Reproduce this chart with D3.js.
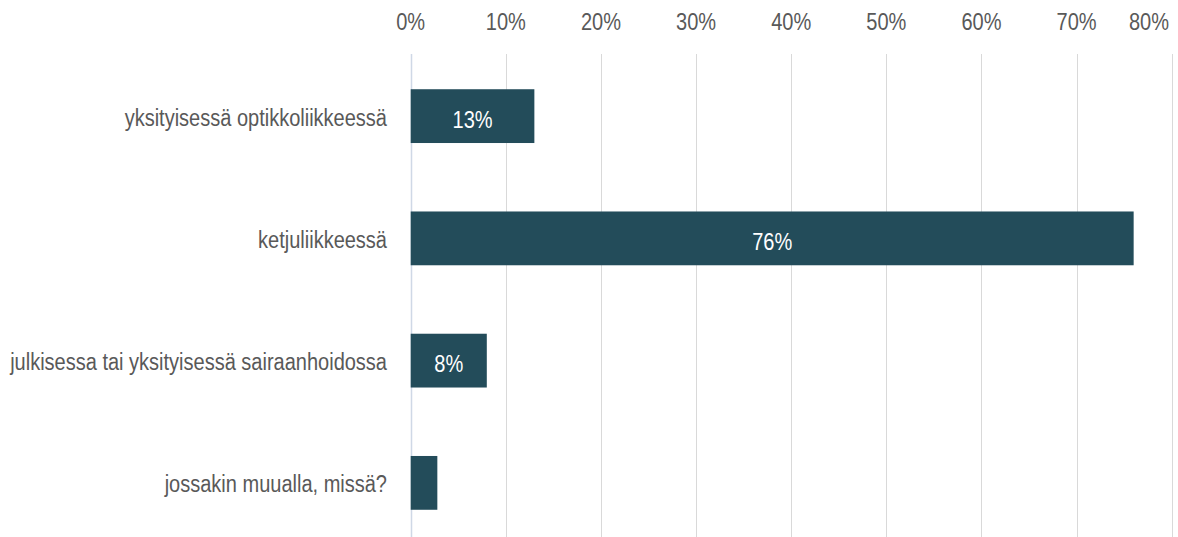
<!DOCTYPE html>
<html>
<head>
<meta charset="utf-8">
<script src="https://cdn.jsdelivr.net/npm/d3@7"></script>
<style>
  html, body { margin: 0; padding: 0; background: #fff; }
  svg { display: block; }
  text { font-family: "Liberation Sans", Arial, sans-serif; font-size: 23px; }
</style>
</head>
<body>
<svg id="chart" width="1178" height="537"></svg>
<script>
// Where the glasses were bought (share of respondents, %)
const categories = [
  "yksityisessä optikkoliikkeessä",
  "ketjuliikkeessä",
  "julkisessa tai yksityisessä sairaanhoidossa",
  "jossakin muualla, missä?"
];
const values = [13, 76, 8, 2.8];
const valueLabels = ["13%", "76%", "8%", ""];
const tickValues = [0, 10, 20, 30, 40, 50, 60, 70, 80];

const width = 1178, height = 537;
const textScaleX = 0.87; // narrow, tall lettering
const svg = d3.select("#chart");

const x = d3.scaleLinear().domain([0, 80]).range([410.7, 1171.7]);
const y = d3.scaleBand().domain(categories).range([55, 544]).paddingInner(0.56).paddingOuter(0.28);

const place = (tx, ty) => `translate(${tx},${ty}) scale(${textScaleX},1)`;

// vertical gridlines
svg.append("g")
  .selectAll("line")
  .data(tickValues)
  .join("line")
  .attr("x1", d => Math.round(x(d)) + 0.5)
  .attr("x2", d => Math.round(x(d)) + 0.5)
  .attr("y1", 54)
  .attr("y2", height)
  .attr("stroke", d => d === 0 ? "#cfd8e6" : "#d9d9d9")
  .attr("stroke-width", d => d === 0 ? 1.5 : 1);

// top axis labels
svg.append("g")
  .selectAll("text")
  .data(tickValues)
  .join("text")
  .attr("transform", d => place(d === 80 ? 1169 : x(d), 30))
  .attr("text-anchor", d => d === 80 ? "end" : "middle")
  .attr("fill", "#595959")
  .text(d => d + "%");

// bars
svg.append("g")
  .selectAll("rect")
  .data(categories)
  .join("rect")
  .attr("x", x(0))
  .attr("y", d => y(d))
  .attr("width", (d, i) => x(values[i]) - x(0))
  .attr("height", y.bandwidth())
  .attr("fill", "#234c5a");

// value labels inside the bars
svg.append("g")
  .selectAll("text")
  .data(categories)
  .join("text")
  .attr("transform", (d, i) => place((x(0) + x(values[i])) / 2, y(d) + y.bandwidth() / 2 + 11.5))
  .attr("text-anchor", "middle")
  .attr("fill", "#ffffff")
  .text((d, i) => valueLabels[i]);

// category labels
svg.append("g")
  .selectAll("text")
  .data(categories)
  .join("text")
  .attr("transform", d => place(387, y(d) + y.bandwidth() / 2 + 9.5))
  .attr("text-anchor", "end")
  .attr("fill", "#595959")
  .text(d => d);
</script>
</body>
</html>
